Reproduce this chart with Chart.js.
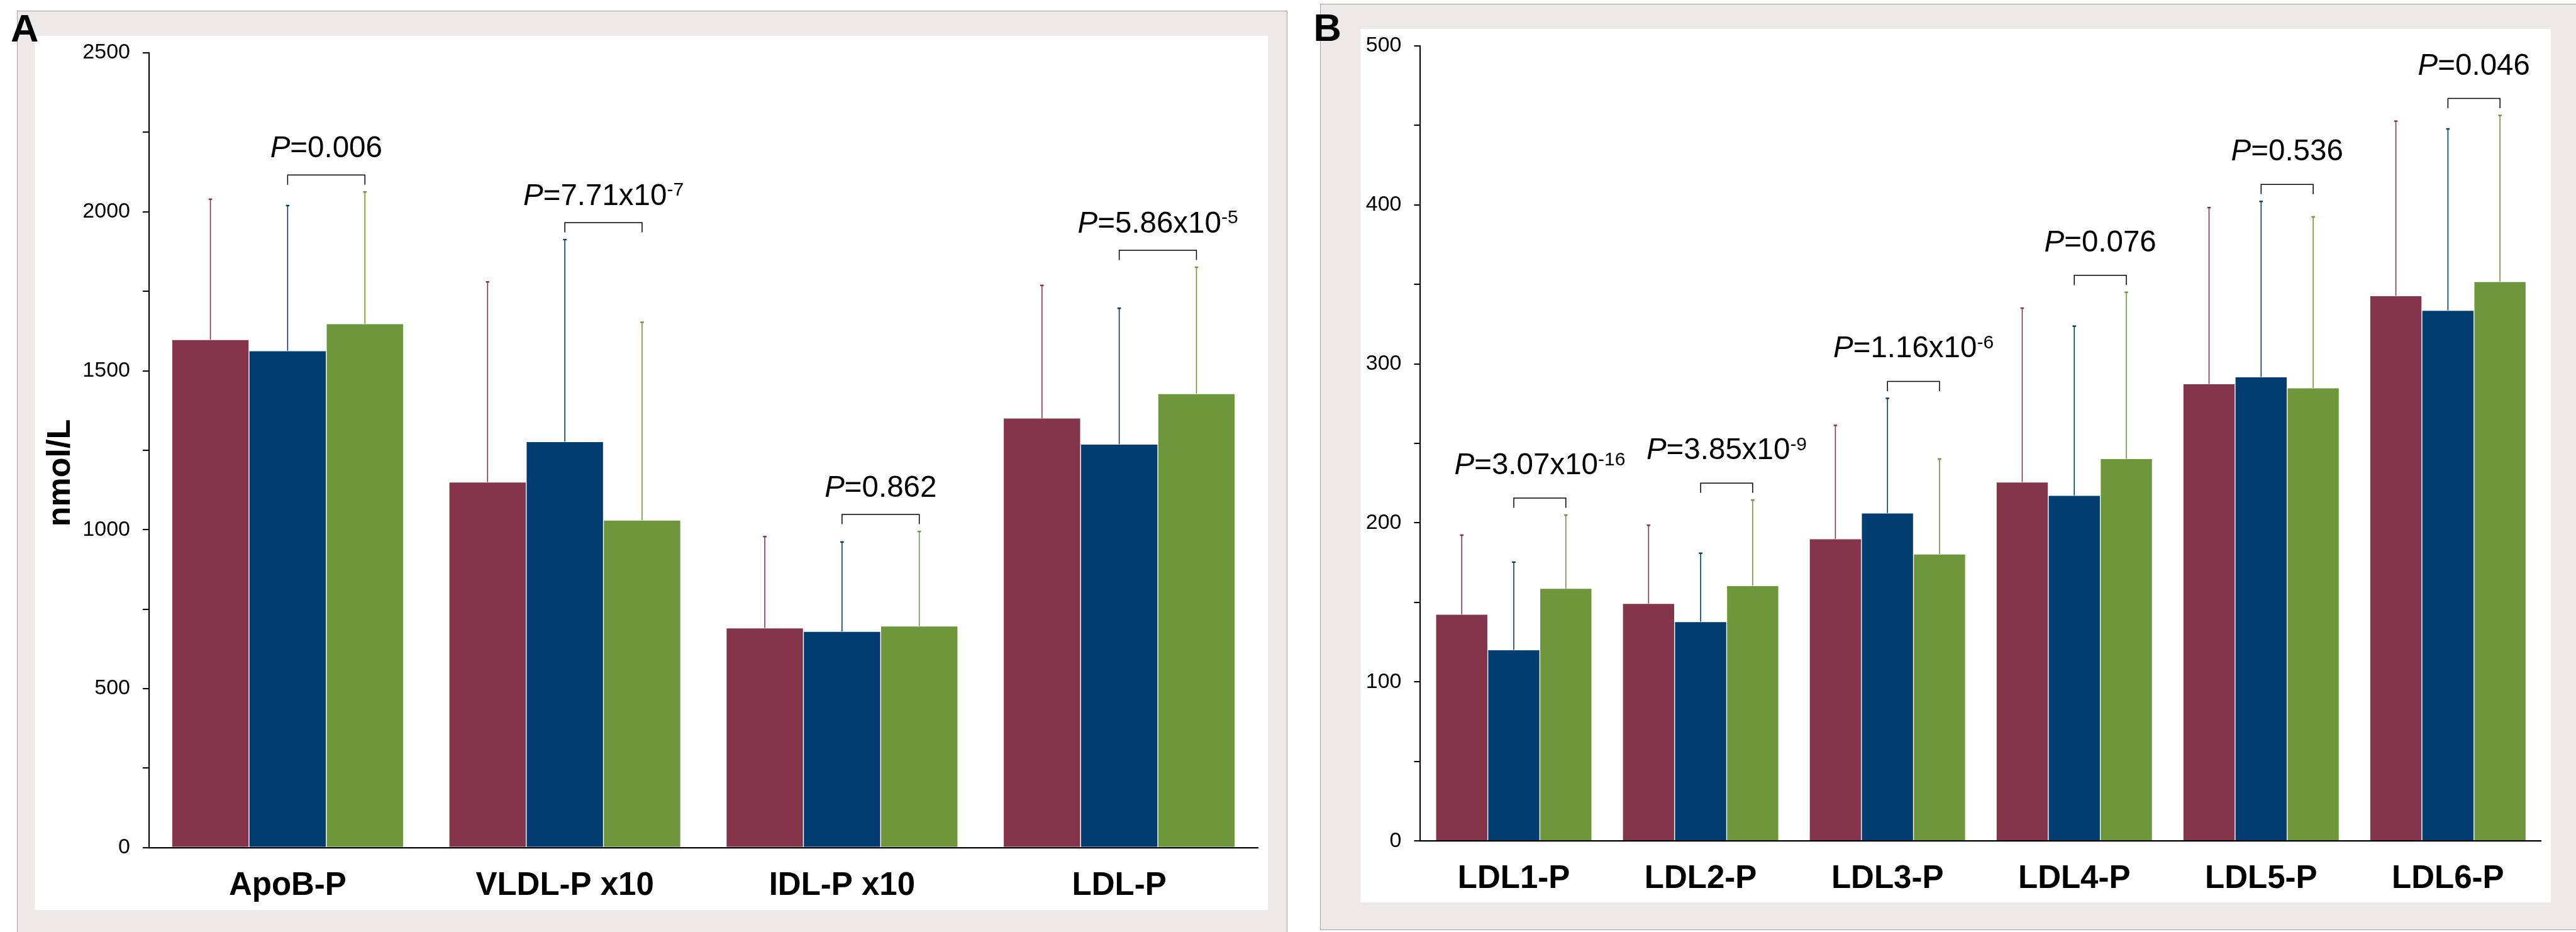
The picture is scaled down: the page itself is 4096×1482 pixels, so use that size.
<!DOCTYPE html>
<html><head><meta charset="utf-8">
<script src="https://cdn.jsdelivr.net/npm/chart.js@4.4.1/dist/chart.umd.min.js"></script>
<style>
html,body{margin:0;padding:0;background:#fff;width:4096px;height:1482px;overflow:hidden;}
.frame{position:absolute;background:#ECE9E8;border:1.3px solid #A9A19D;box-sizing:border-box;}
.inner{position:absolute;background:#fff;}
canvas{position:absolute;left:0;top:0;}
</style></head><body>
<div class="frame" style="left:26.7px;top:16.6px;width:2020.5px;height:1480px;border-bottom:none"></div>
<div class="inner" style="left:55.1px;top:57.2px;width:1961.3px;height:1389.4px"></div>
<div class="frame" style="left:2099.3px;top:6.2px;width:2010px;height:1472.5px;border-right:none"></div>
<div class="inner" style="left:2163px;top:46px;width:1893.4px;height:1389.4px"></div>
<canvas id="cA" width="4096" height="1482"></canvas>
<canvas id="cB" width="4096" height="1482"></canvas>
<script>
// ---------- data ----------
const seriesNames = ['Group 1', 'Group 2', 'Group 3'];
const colors = ['#85354B', '#023D71', '#6E963B'];

const catsA = ['ApoB-P', 'VLDL-P x10', 'IDL-P x10', 'LDL-P'];
const meanA1 = [1598, 1150, 691, 1351];
const meanA2 = [1563, 1277, 680, 1269];
const meanA3 = [1648, 1030, 697, 1428];
const sdA1 = [442, 630, 288, 418];
const sdA2 = [457, 636, 282, 428];
const sdA3 = [415, 623, 298, 398];
const pMainA = ['0.006', '7.71x10', '0.862', '5.86x10'];
const pExpA = ['', '-7', '', '-5'];
const yMaxA = 2500, yStepA = 250, yLabelStepA = 500;

const catsB = ['LDL1-P', 'LDL2-P', 'LDL3-P', 'LDL4-P', 'LDL5-P', 'LDL6-P'];
const meanB1 = [142.5, 149.3, 190.0, 225.7, 287.4, 342.8];
const meanB2 = [120.2, 137.9, 206.2, 217.3, 291.8, 333.6];
const meanB3 = [158.8, 160.5, 180.4, 240.4, 284.9, 351.7];
const sdB1 = [49.9, 49.3, 71.4, 109.4, 110.9, 109.9];
const sdB2 = [55.2, 43.1, 72.2, 106.5, 110.4, 114.2];
const sdB3 = [46.2, 53.9, 59.9, 104.7, 107.6, 104.6];
const pMainB = ['3.07x10', '3.85x10', '1.16x10', '0.076', '0.536', '0.046'];
const pExpB = ['-16', '-9', '-6', '', '', ''];
const yMaxB = 500, yStepB = 50, yLabelStepB = 100;

const yTitleA = 'nmol/L';
// ---------- drawing ----------
const FF = "'Liberation Sans', Arial, Helvetica, sans-serif";

function drawP(ctx, cx, base, main, exp) {
  const parts = [
    {t: 'P', f: 'italic 47.5px ' + FF, dy: 0},
    {t: '=' + main, f: '47.5px ' + FF, dy: 0}
  ];
  if (exp) parts.push({t: exp, f: '30px ' + FF, dy: -14.4});
  let w = 0;
  parts.forEach(p => { ctx.font = p.f; p.w = ctx.measureText(p.t).width; w += p.w; });
  let x = cx - w / 2;
  ctx.fillStyle = '#000';
  ctx.textAlign = 'left';
  ctx.textBaseline = 'alphabetic';
  parts.forEach(p => { ctx.font = p.f; ctx.fillText(p.t, x, base + p.dy); x += p.w; });
}

const annot = {
  id: 'annot',
  afterDatasetsDraw(chart, args, o) {
    const ctx = chart.ctx, ys = chart.scales.y;
    ctx.save();
    const tops = [];
    chart.data.datasets.forEach((ds, i) => {
      const meta = chart.getDatasetMeta(i);
      tops[i] = [];
      meta.data.forEach((bar, j) => {
        const top = ys.getPixelForValue(ds.data[j] + o.sds[i][j]);
        tops[i][j] = top;
        ctx.strokeStyle = ds.backgroundColor;
        ctx.lineWidth = 1.6;
        ctx.beginPath();
        ctx.moveTo(bar.x, bar.y);
        ctx.lineTo(bar.x, top);
        ctx.stroke();
        ctx.fillStyle = ds.backgroundColor;
        ctx.fillRect(bar.x - 2.8, top - 1, 5.6, 2.4);
      });
    });
    const m2 = chart.getDatasetMeta(1), m3 = chart.getDatasetMeta(2);
    m2.data.forEach((b2, j) => {
      const b3 = m3.data[j];
      const bottom = Math.min(tops[1][j], tops[2][j]) - 11.3;
      const top = bottom - 15.5;
      ctx.strokeStyle = '#000';
      ctx.lineWidth = 1.5;
      ctx.beginPath();
      ctx.moveTo(b2.x, bottom); ctx.lineTo(b2.x, top); ctx.lineTo(b3.x, top); ctx.lineTo(b3.x, bottom);
      ctx.stroke();
      drawP(ctx, (b2.x + b3.x) / 2, top - o.textGap, o.pMain[j], o.pExp[j]);
    });
    ctx.restore();
  },
  afterDraw(chart, args, o) {
    const ctx = chart.ctx;
    ctx.save();
    ctx.fillStyle = '#000';
    ctx.textBaseline = 'alphabetic';
    ctx.textAlign = 'left';
    ctx.font = 'bold 61.5px ' + FF;
    ctx.fillText(o.letter, o.letterX, o.letterY);
    if (o.yTitle) {
      ctx.translate(111.3, 752);
      ctx.rotate(-Math.PI / 2);
      ctx.textAlign = 'center';
      ctx.font = 'bold 52px ' + FF;
      ctx.fillText(o.yTitle, 0, 0);
    }
    ctx.restore();
  }
};

function build(id, cats, means, sds, pMain, pExp, yMax, yStep, yLab, pad, yWidth, textGap, letter, lx, ly, yTitle) {
  return new Chart(document.getElementById(id), {
    type: 'bar',
    data: {
      labels: cats,
      datasets: means.map((m, i) => ({
        label: seriesNames[i], data: m, backgroundColor: colors[i],
        borderColor: 'rgba(255,255,255,0.45)', borderWidth: {left: 0.7, right: 0.7, top: 0.7, bottom: 0},
        borderSkipped: 'bottom',
        categoryPercentage: 0.836, barPercentage: 1.0
      }))
    },
    options: {
      responsive: false, animation: false, devicePixelRatio: 1,
      layout: {padding: pad},
      plugins: {
        legend: {display: false}, tooltip: {enabled: false},
        annot: {sds, pMain, pExp, textGap, letter, letterX: lx, letterY: ly, yTitle}
      },
      scales: {
        x: {
          type: 'category', offset: true, z: 1,
          grid: {display: false, drawTicks: false},
          border: {display: true, color: '#000', width: 2.2},
          ticks: {color: '#000', font: {family: FF, size: 51, weight: 'bold'}, padding: 30, maxRotation: 0, autoSkip: false},
          afterFit(s) { s.height = 100; }
        },
        y: {
          min: 0, max: yMax,
          ticks: {stepSize: yStep, autoSkip: false, color: '#000', font: {family: FF, size: 34}, padding: 20,
                  callback: v => (v % yLab === 0 ? String(v) : '')},
          grid: {drawOnChartArea: false, drawTicks: true, tickLength: 10, color: '#000', lineWidth: 2.1},
          border: {display: true, color: '#000', width: 2.1},
          afterFit(s) { s.width = yWidth; }
        }
      }
    },
    plugins: [annot]
  });
}

build('cA', catsA, [meanA1, meanA2, meanA3], [sdA1, sdA2, sdA3], pMainA, pExpA, yMaxA, yStepA, yLabelStepA,
  {left: 0, top: 84, right: 2096, bottom: 34.1}, 237, 28.4, 'A', 17.1, 66.3, yTitleA);
build('cB', catsB, [meanB1, meanB2, meanB3], [sdB1, sdB2, sdB3], pMainB, pExpB, yMaxB, yStepB, yLabelStepB,
  {left: 2058.5, top: 72.8, right: 55.1, bottom: 44.8}, 200, 38, 'B', 2088.5, 64.7, null);
</script>
</body></html>
